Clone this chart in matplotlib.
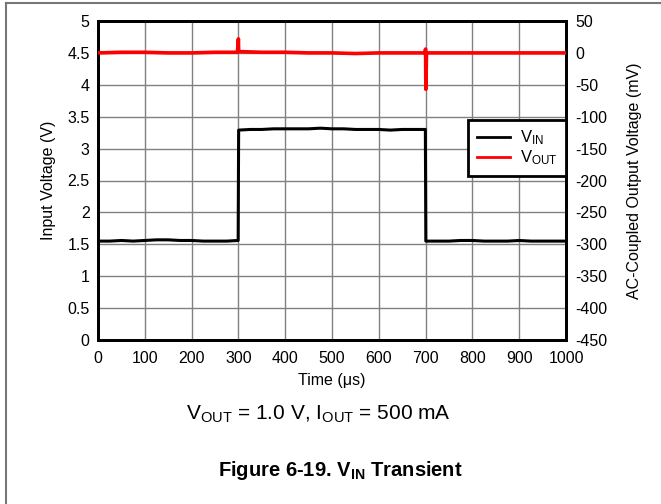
import matplotlib
matplotlib.use("Agg")
import matplotlib.pyplot as plt
from matplotlib.lines import Line2D

plt.rcParams['font.family'] = ['Liberation Sans', 'DejaVu Sans']
plt.rcParams['mathtext.fontset'] = 'custom'
plt.rcParams['mathtext.rm'] = 'Liberation Sans'
plt.rcParams['mathtext.it'] = 'Liberation Sans:italic'
plt.rcParams['mathtext.bf'] = 'Liberation Sans:bold'
plt.rcParams['axes.unicode_minus'] = False

# ---- data ----
vin_t = [0, 25, 50, 75, 100, 125, 150, 175, 200, 225, 250, 275, 299.5,
         300.5, 325, 350, 375, 400, 425, 450, 475, 500, 525, 550, 575, 600,
         625, 650, 675, 699.5, 700.5, 725, 750, 775, 800, 825, 850, 875, 900,
         925, 950, 975, 1000]
vin_v = [1.55, 1.55, 1.56, 1.55, 1.56, 1.57, 1.57, 1.56, 1.56, 1.55, 1.55, 1.55, 1.56,
         3.29, 3.30, 3.30, 3.31, 3.31, 3.31, 3.31, 3.32, 3.31, 3.31, 3.30, 3.30, 3.30,
         3.29, 3.30, 3.30, 3.30, 1.55, 1.55, 1.55, 1.56, 1.56, 1.55, 1.55, 1.55, 1.56,
         1.55, 1.55, 1.55, 1.55]

vout_t = [0, 50, 100, 150, 200, 250, 298, 300, 300.5, 302, 350, 400, 450, 500,
          550, 600, 650, 698, 700, 700.5, 702, 750, 800, 850, 900, 950, 1000]
vout_mv = [0, 1, 1, 0, 0, 1, 1, 22, 4, 2, 1, 1, 0, 0,
           -1, 0, 0, 0, 6, -57, 0, 0, 0, 0, 0, 0, 0]

x_ticks = [0, 100, 200, 300, 400, 500, 600, 700, 800, 900, 1000]
yl_ticks = [0, 0.5, 1, 1.5, 2, 2.5, 3, 3.5, 4, 4.5, 5]
yl_labels = ['0', '0.5', '1', '1.5', '2', '2.5', '3', '3.5', '4', '4.5', '5']
yr_ticks = [-450, -400, -350, -300, -250, -200, -150, -100, -50, 0, 50]

fig = plt.figure(figsize=(6.61, 5.04), dpi=100)

# outer frame (left and top edges)
fig.add_artist(Line2D([5.5/661, 5.5/661], [0, 1 - 3/504], transform=fig.transFigure,
                      color='#777777', lw=1.5))
fig.add_artist(Line2D([5.5/661, 1], [1 - 3/504, 1 - 3/504], transform=fig.transFigure,
                      color='#777777', lw=1.5))

ax = fig.add_axes([98/661, 1 - 340/504, (566 - 98)/661, (340 - 21)/504])
ax.set_xlim(0, 1000)
ax.set_ylim(0, 5)
ax.set_xticks(x_ticks)
ax.set_yticks(yl_ticks)
ax.set_yticklabels(yl_labels)
ax.grid(True, color='#808080', lw=1.0)
ax.set_axisbelow(True)
ax.tick_params(length=0, labelsize=11.5, pad=6)
ax.tick_params(axis='x', pad=8)
for s in ax.spines.values():
    s.set_linewidth(2.0)
    s.set_color('black')
ax.set_xlabel('Time (μs)', fontsize=11.5, labelpad=5)
ax.set_ylabel('Input Voltage (V)', fontsize=11.5, labelpad=8)

ax2 = ax.twinx()
ax2.set_ylim(-450, 50)
ax2.set_yticks(yr_ticks)
ax2.tick_params(length=0, labelsize=11.5, pad=7)
for s in ax2.spines.values():
    s.set_linewidth(2.0)
ax2.set_ylabel('AC-Coupled Output Voltage (mV)', fontsize=11.5, labelpad=14)

l1, = ax.plot(vin_t, vin_v, color='black', lw=2.2, zorder=3)
l2, = ax2.plot(vout_t, vout_mv, color='#ff0000', lw=2.6, zorder=3)

h1 = Line2D([], [], color='black', lw=2)
h2 = Line2D([], [], color='#ff0000', lw=2)
leg = ax2.legend([h1, h2], ['V$_{\\mathrm{IN}}$', 'V$_{\\mathrm{OUT}}$'],
                 loc='upper right', bbox_to_anchor=(1.0, (340 - 120) / 319),
                 fontsize=12, frameon=True, fancybox=False, framealpha=1,
                 edgecolor='black', handlelength=2.0, borderaxespad=0,
                 labelspacing=0.1, handletextpad=0.6, borderpad=0.5)
leg.get_frame().set_linewidth(2.0)

fig.text(318/661, 1 - 414/504, 'V$_{\\mathrm{OUT}}$ = 1.0 V, I$_{\\mathrm{OUT}}$ = 500 mA',
         ha='center', va='center', fontsize=15)
fig.text(340/661, 1 - 470/504, 'Figure 6-19. V$_{\\mathbf{IN}}$ Transient',
         ha='center', va='center', fontsize=14.5, fontweight='bold')

fig.savefig('out.png', dpi=100)
